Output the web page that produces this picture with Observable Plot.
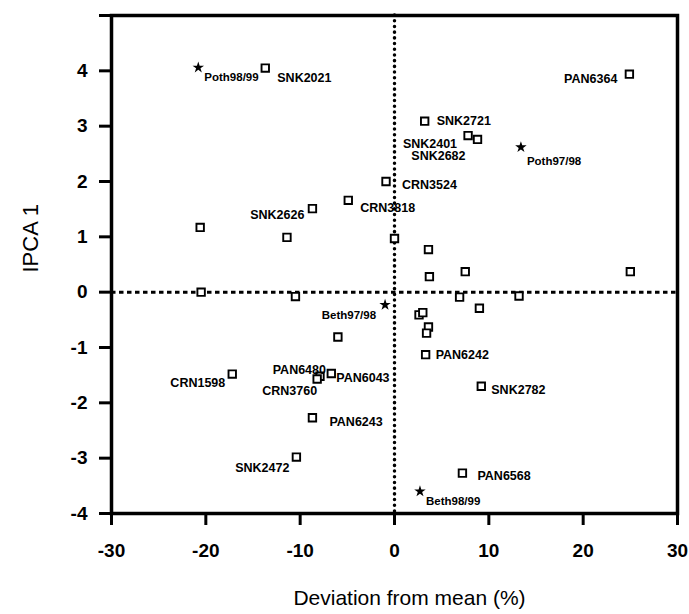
<!DOCTYPE html>
<html><head><meta charset="utf-8">
<script src="https://cdn.jsdelivr.net/npm/d3@7"></script>
<script src="https://cdn.jsdelivr.net/npm/@observablehq/plot@0.6"></script>
<style>
body{margin:0;background:#fff}
svg{font-family:"Liberation Sans",Arial,sans-serif;background:#fff}
</style>
</head><body><div id="chart"></div>
<script>
// Genotypes (hollow squares); "" = unlabelled point
const genotypeNames = ["SNK2021","PAN6364","SNK2721","SNK2401","SNK2682","CRN3524","CRN3818","SNK2626",
  "","","","","","","","","","","","","","","","","",
  "PAN6242","CRN1598","PAN6480","CRN3760","PAN6043","PAN6243","SNK2782","SNK2472","PAN6568"];
const genotypeDeviation = [-13.7,24.9,3.2,7.8,8.8,-0.9,-4.9,-8.7,
  -20.6,-11.4,0.0,3.6,7.5,3.7,25.0,-20.5,-10.5,6.9,13.2,9.0,2.6,3.0,3.6,3.4,-6.0,
  3.3,-17.2,-7.9,-8.2,-6.7,-8.7,9.2,-10.4,7.2];
const genotypeIPCA = [4.05,3.94,3.09,2.83,2.76,2.0,1.66,1.51,
  1.17,0.99,0.97,0.77,0.37,0.28,0.37,0.0,-0.08,-0.09,-0.07,-0.29,-0.41,-0.37,-0.63,-0.74,-0.81,
  -1.13,-1.48,-1.52,-1.57,-1.47,-2.27,-1.70,-2.98,-3.27];

// Environments (filled stars)
const environmentNames = ["Poth98/99","Poth97/98","Beth97/98","Beth98/99"];
const environmentDeviation = [-20.8,13.4,-1.0,2.7];
const environmentIPCA = [4.06,2.62,-0.23,-3.6];

const xTicks = [-30,-20,-10,0,10,20,30];
const yTicks = [-4,-3,-2,-1,0,1,2,3,4,5];
const xLabel = "Deviation from mean (%)";
const yLabel = "IPCA 1";

// label placement: [dx, dy, textAnchor]
const labelLayout = {
  "SNK2021":[12,10,"start"], "PAN6364":[-12,5,"end"], "SNK2721":[12,0,"start"],
  "SNK2401":[-11,8,"end"], "SNK2682":[-12,17,"end"], "CRN3524":[16,3,"start"],
  "CRN3818":[12,8,"start"], "SNK2626":[-8,6,"end"], "PAN6242":[10,0,"start"],
  "CRN1598":[-7,9,"end"], "PAN6480":[6,-6,"end"], "CRN3760":[0,12,"end"],
  "PAN6043":[5,4,"start"], "PAN6243":[17,4,"start"], "SNK2782":[10,4,"start"],
  "SNK2472":[-7,11,"end"], "PAN6568":[15,3,"start"],
  "Poth98/99":[6,10,"start"], "Poth97/98":[6,14,"start"], "Beth97/98":[-9,10,"end"], "Beth98/99":[6,10,"start"]
};

const genotypes = genotypeNames.map((name,i)=>({name, x:genotypeDeviation[i], y:genotypeIPCA[i]}));
const environments = environmentNames.map((name,i)=>({name, x:environmentDeviation[i], y:environmentIPCA[i]}));
const envSet = new Set(environmentNames);

const labelMarks = [...genotypes.filter(d=>d.name), ...environments].map(d=>{
  const [dx,dy,anchor] = labelLayout[d.name];
  return Plot.text([d], {x:"x", y:"y", text:"name", dx, dy, textAnchor:anchor,
    fontSize: envSet.has(d.name) ? 11.5 : 12.5, fontWeight:"bold", fill:"black"});
});

const chart = Plot.plot({
  width:689, height:614,
  marginLeft:111, marginRight:12, marginTop:15, marginBottom:101,
  x:{domain:[-30,30]},
  y:{domain:[-4,5]},
  marks:[
    Plot.ruleX([0], {stroke:"black", strokeWidth:3.5, strokeDasharray:"0.1,5.6", strokeLinecap:"round"}),
    Plot.ruleY([0], {stroke:"black", strokeWidth:3, strokeDasharray:"4.5,3.5"}),
    Plot.frame({stroke:"black", strokeWidth:3.5}),
    Plot.axisX({ticks:xTicks, tickSize:12, tickPadding:18, strokeWidth:3, fontSize:19, fontWeight:"bold", label:null, fill:"black",
      tickFormat:d=>String(d)}),
    Plot.axisY({ticks:yTicks, tickSize:12, tickPadding:12, strokeWidth:3, fontSize:19, fontWeight:"bold", label:null, fill:"black",
      tickFormat:d=> d===5 ? "" : String(d)}),
    Plot.dot(genotypes, {x:"x", y:"y", symbol:"square", r:4.2, stroke:"black", strokeWidth:1.9, fill:"white"}),
    Plot.dot(environments, {x:"x", y:"y", symbol:"star", r:3.6, fill:"black"}),
    ...labelMarks,
    Plot.text([xLabel], {frameAnchor:"bottom", dx:15, dy:91, fontSize:21, fill:"black"}),
    Plot.text([yLabel], {frameAnchor:"left", rotate:-90, dx:-81, dy:8, fontSize:22, fill:"black"})
  ]
});
document.getElementById("chart").appendChild(chart);
</script>
</body></html>
